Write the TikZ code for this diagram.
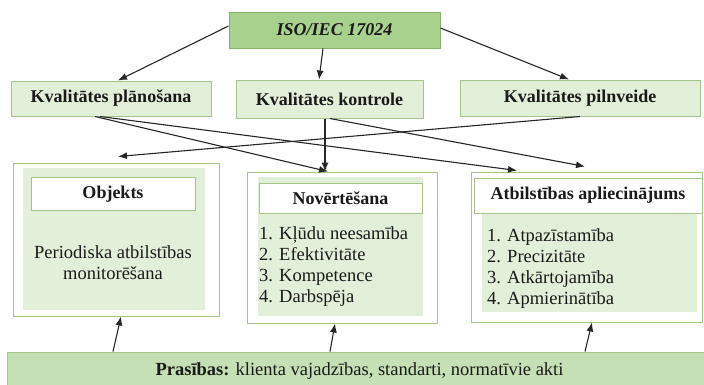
\documentclass[tikz,border=0pt]{standalone}
\usepackage{fontspec}
\setmainfont{Liberation Serif}
\usetikzlibrary{arrows.meta}

\definecolor{isofill}{HTML}{A9D18E}
\definecolor{isoline}{HTML}{86B368}
\definecolor{paleg}{HTML}{E2EFD9}
\definecolor{midg}{HTML}{C5E0B4}
\definecolor{boxline}{HTML}{A3C58A}
\definecolor{ink}{HTML}{1A1A1A}
\definecolor{wire}{HTML}{262626}

\begin{document}
\begin{tikzpicture}[x=1pt,y=-1pt,
  bold/.style={font=\fontsize{18}{21}\selectfont\bfseries},
  plain/.style={font=\fontsize{18.5}{21}\selectfont},
  gbox/.style={draw=boxline, line width=1pt, inner sep=0pt, text=ink},
  isobox/.style={gbox, draw=isoline, fill=isofill, bold},
  rowbox/.style={gbox, fill=paleg, bold},
  outerbox/.style={gbox, fill=white},
  innerfill/.style={fill=paleg, inner sep=0pt},
  titlebox/.style={gbox, fill=white, bold},
  listtext/.style={plain, text=ink, inner sep=0pt, align=left, anchor=west},
  conn/.style={draw=wire, line width=1.1pt, -{Latex[length=9pt,width=7pt]}}
]
\useasboundingbox (0,0) rectangle (704,384);
\clip (0,0) rectangle (704,384);

% top standard
\node[isobox, minimum width=211pt, minimum height=36pt] (iso) at (334.5,30)
  {\itshape ISO/IEC 17024};

% second row
\node[rowbox, minimum width=200pt, minimum height=35pt] (plan) at (111,98.5)
  {Kvalitātes plānošana};
\node[rowbox, minimum width=187pt, minimum height=38pt] (kontr) at (329.5,99)
  {Kvalitātes kontrole};
\node[rowbox, minimum width=240pt, minimum height=36pt] (pilnv) at (580,98)
  {Kvalitātes pilnveide};

% third row: Objekts
\node[outerbox, minimum width=206pt, minimum height=153pt] (obj) at (116,239.5) {};
\node[innerfill, minimum width=182pt, minimum height=142pt] (objin) at (114,239) {};
\node[titlebox, minimum width=164pt, minimum height=33pt] (objt) at (113,194) {Objekts};
\node[plain, text=ink, align=center, inner sep=0pt] (objtxt) at (113,262.5)
  {Periodiska atbilstības\\monitorēšana};

% third row: Novērtēšana
\node[outerbox, minimum width=190pt, minimum height=151pt] (nov) at (342,247.5) {};
\node[innerfill, minimum width=165pt, minimum height=139pt] (novin) at (340.5,246.5) {};
\node[titlebox, minimum width=163pt, minimum height=30pt] (novt) at (340.5,198) {Novērtēšana};
\node[listtext] (novlist) at (259,266.5)
  {1. Kļūdu neesamība\\2. Efektivitāte\\3. Kompetence\\4. Darbspēja};

% third row: Atbilstības apliecinājums
\node[outerbox, minimum width=231pt, minimum height=150pt] (atb) at (586.5,247) {};
\node[innerfill, minimum width=215pt, minimum height=99pt] (atbin) at (589.5,262.5) {};
\node[titlebox, minimum width=228pt, minimum height=35pt] (atbt) at (588,195.5)
  {Atbilstības apliecinājums};
\node[listtext] (atblist) at (487,268.5)
  {1. Atpazīstamība\\2. Precizitāte\\3. Atkārtojamība\\4. Apmierinātība};

% requirements bar
\node[gbox, fill=midg, minimum width=705pt, minimum height=38pt, plain] (req) at (359.5,371)
  {\textbf{Prasības:} klienta vajadzības, standarti, normatīvie akti};

% connectors from the standard
\draw[conn] ([yshift=4pt]iso.west) -- ([xshift=7pt]plan.north);
\draw[conn] ([xshift=-11.5pt]iso.south) -- ([xshift=-10.5pt]kontr.north);
\draw[conn] ([yshift=2pt]iso.east) -- ([xshift=-11pt]pilnv.north);

% connectors from the second row
\draw[conn] ([xshift=-16pt]plan.south) -- ([xshift=-14pt]nov.north);
\draw[conn] ([xshift=-11pt]plan.south) -- ([xshift=-69.5pt,yshift=1pt]atb.north);
\draw[conn] ([xshift=-4.5pt]kontr.south) -- ([xshift=-17pt]nov.north);
\draw[conn] ([xshift=0.5pt]kontr.south) -- ([xshift=-1.5pt,yshift=5pt]atb.north);
\draw[conn] (pilnv.south) -- ([xshift=2pt,yshift=6pt]obj.north);

% connectors from the requirements
\draw[conn] ([xshift=-246.5pt]req.north) -- ([xshift=5pt]obj.south);
\draw[conn] ([xshift=-29.5pt]req.north) -- ([xshift=-7pt]nov.south);
\draw[conn] ([xshift=225.5pt]req.north) -- ([xshift=5.5pt]atb.south);
\end{tikzpicture}
\end{document}
